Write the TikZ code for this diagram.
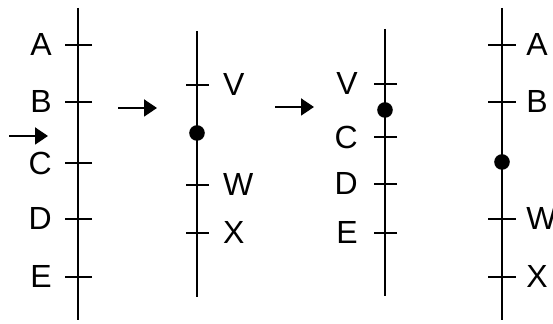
\documentclass[tikz,border=0pt]{standalone}
\usepackage{fontspec}
\setmainfont{Liberation Sans}
\usetikzlibrary{arrows.meta,positioning}
\tikzset{
  chrom/.style={line width=1.4pt, black},
  tickmark/.style={line width=1.25pt, black},
  lbl/.style={inner sep=0pt, font=\fontsize{16}{19}\selectfont},
  centro/.style={circle, fill=black, minimum size=7.8pt, inner sep=0pt},
  movearrow/.style={-{Triangle[length=6.5pt, width=8.5pt]}, line width=1pt}
}
\begin{document}
\begin{tikzpicture}[x=0.5pt, y=-0.5pt]
  \useasboundingbox (0,0) rectangle (553,324);
  % first chromosome
  \coordinate (c1top) at (78,8);
  \coordinate (c1bot) at (78,320);
  \draw[chrom] (c1top) -- (c1bot);
  \foreach \y/\t in {45/A, 102/B, 163/C, 219/D, 277/E}
    \draw[tickmark] (92,\y) -- (65,\y) node[lbl, left=6pt] (c1\t) {\t};
  % second chromosome
  \coordinate (c2top) at (197,31);
  \coordinate (c2bot) at (197,297);
  \draw[chrom] (c2top) -- (c2bot);
  \foreach \y/\t in {85/V, 185/W, 233/X}
    \draw[tickmark] (186,\y) -- (209,\y) node[lbl, right=6.5pt] (c2\t) {\t};
  \node[centro] (c2dot) at (197,133) {};
  % third chromosome
  \coordinate (c3top) at (385,29);
  \coordinate (c3bot) at (385,296);
  \draw[chrom] (c3top) -- (c3bot);
  \foreach \y/\t in {84/V, 137/C, 184/D, 233/E}
    \draw[tickmark] (397,\y) -- (374,\y) node[lbl, left=7.5pt] (c3\t) {\t};
  \node[centro] (c3dot) at (385,110) {};
  % fourth chromosome
  \coordinate (c4top) at (502,8);
  \coordinate (c4bot) at (502,320);
  \draw[chrom] (c4top) -- (c4bot);
  \foreach \y/\t in {45/A, 102/B, 219/W, 277/X}
    \draw[tickmark] (488,\y) -- (516,\y) node[lbl, right=4.5pt] (c4\t) {\t};
  \node[centro] (c4dot) at (502,162) {};
  % arrows
  \coordinate (a1s) at (9,136);
  \coordinate (a1e) at (48,136);
  \coordinate (a2s) at (118,108);
  \coordinate (a2e) at (157,108);
  \coordinate (a3s) at (275,107);
  \coordinate (a3e) at (314,107);
  \draw[movearrow] (a1s) -- (a1e);
  \draw[movearrow] (a2s) -- (a2e);
  \draw[movearrow] (a3s) -- (a3e);
\end{tikzpicture}
\end{document}
